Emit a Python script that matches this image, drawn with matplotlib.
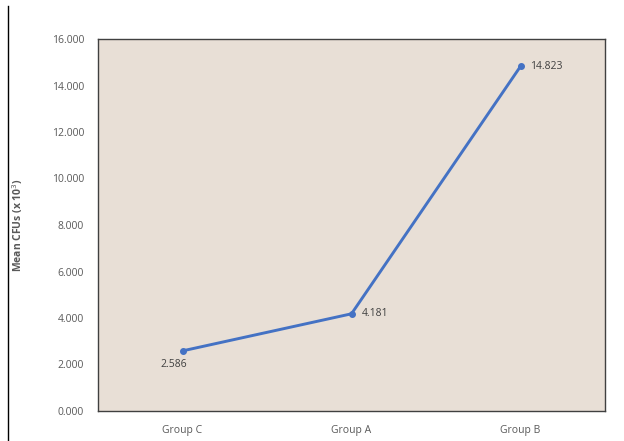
import matplotlib
matplotlib.use("Agg")
import matplotlib.pyplot as plt
from matplotlib.lines import Line2D

plt.rcParams['font.family'] = ['Open Sans', 'DejaVu Sans']

groups = ["Group C", "Group A", "Group B"]
mean_cfus = [2.586, 4.181, 14.823]
y_ticks = [0, 2, 4, 6, 8, 10, 12, 14, 16]

fig = plt.figure(figsize=(6.24, 4.41), dpi=100)
ax = fig.add_axes([98/624, 1 - 411/441, 507/624, 372/441])
ax.set_facecolor("#E8DFD6")

xs = [i + 0.5 for i in range(len(groups))]
ax.plot(xs, mean_cfus, color="#4472C4", lw=2.1, marker="o", ms=4, solid_capstyle="round")

ax.set_xlim(0, len(groups))
ax.set_ylim(0, 16)
ax.set_xticks(xs)
ax.set_xticklabels(groups)
ax.set_yticks(y_ticks)
ax.set_yticklabels([f"{v:.3f}" for v in y_ticks])
ax.tick_params(axis="both", length=0, labelsize=7.5, colors="#595959")
ax.tick_params(axis="x", pad=10)
ax.tick_params(axis="y", pad=10)

for s in ax.spines.values():
    s.set_color("#404040")
    s.set_linewidth(1.0)

offsets = [(-6, -10), (7.5, 0), (7, 0)]
aligns = ["center", "left", "left"]
for x, v, off, ha in zip(xs, mean_cfus, offsets, aligns):
    ax.annotate(f"{v:.3f}", (x, v), xytext=off, textcoords="offset points",
                ha=ha, va="center", fontsize=7.5, color="#404040")

fig.text(18/624, 1 - 225/441, "Mean CFUs (x 10$^3$)", rotation=90, ha="center", va="center",
         fontsize=7.5, fontweight="bold", color="#595959")

fig.add_artist(Line2D([8/624, 8/624], [0, 1 - 6/441], color="black", lw=1.0))

fig.savefig("out.png", dpi=100)
